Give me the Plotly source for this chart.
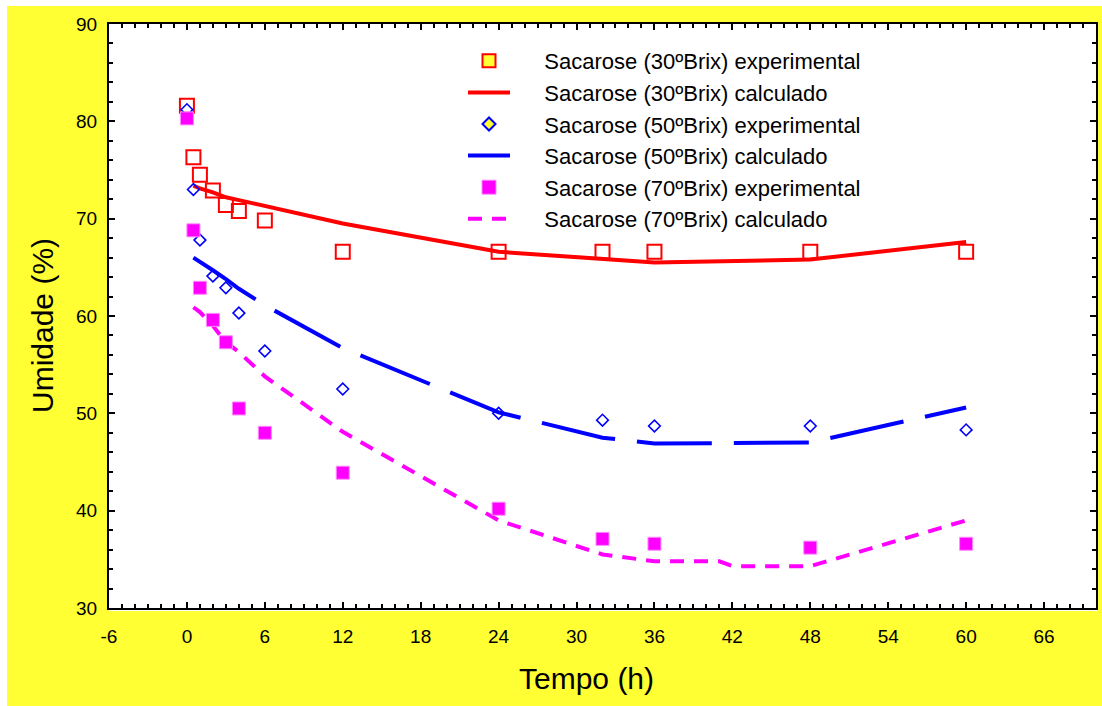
import plotly.graph_objects as go

# ---------------- data ----------------
t_exp = [0, 0.5, 1, 2, 3, 4, 6, 12, 24, 32, 36, 48, 60]
u30_exp = [81.6, 76.3, 74.5, 72.9, 71.4, 70.8, 69.8, 66.6, 66.6, 66.6, 66.6, 66.6, 66.6]
u50_exp = [81.2, 73.0, 67.8, 64.1, 62.9, 60.3, 56.4, 52.5, 50.0, 49.3, 48.7, 48.7, 48.3]
u70_exp = [80.3, 68.8, 62.9, 59.6, 57.3, 50.5, 48.0, 43.9, 40.2, 37.1, 36.6, 36.2, 36.6]

t_calc30 = [0.5, 1, 2, 3, 4, 6, 12, 24, 32, 36, 48, 60]
u30_calc = [73.4, 73.1, 72.7, 72.2, 71.9, 71.3, 69.5, 66.6, 65.9, 65.5, 65.8, 67.6]

t_calc50 = [0.5, 1, 2, 3, 4, 6, 12, 24, 32, 36, 48, 60]
u50_calc = [66.0, 65.6, 64.7, 63.8, 62.8, 61.1, 56.7, 50.1, 47.5, 46.9, 47.0, 50.6]

t_calc70 = [0.5, 1, 2, 3, 4, 6, 12, 24, 32, 36, 41, 42, 48, 60]
u70_calc = [60.9, 60.4, 59.0, 57.3, 56.3, 53.8, 48.1, 39.0, 35.5, 34.8, 34.8, 34.3, 34.3, 39.0]

names = [
    "Sacarose (30ºBrix) experimental",
    "Sacarose (30ºBrix) calculado",
    "Sacarose (50ºBrix) experimental",
    "Sacarose (50ºBrix) calculado",
    "Sacarose (70ºBrix) experimental",
    "Sacarose (70ºBrix) calculado",
]

x_ticks = [-6, 0, 6, 12, 18, 24, 30, 36, 42, 48, 54, 60, 66]
y_ticks = [30, 40, 50, 60, 70, 80, 90]
x_title = "Tempo (h)"
y_title = "Umidade (%)"

# ---------------- styles ----------------
RED = "#FF0000"
BLUE = "#0000FF"
MAG = "#FF00FF"
YEL = "#FFFF33"
FONT = "Liberation Sans, Arial, sans-serif"
PAD = "\u2003\u2004"  # visual gap between legend symbol and its text

fig = go.Figure()

# data traces (no legend)
fig.add_trace(go.Scatter(x=t_calc30, y=u30_calc, mode="lines", showlegend=False,
                         line=dict(color=RED, width=4)))
fig.add_trace(go.Scatter(x=t_calc50, y=u50_calc, mode="lines", showlegend=False,
                         line=dict(color=BLUE, width=4, dash="75px,22px")))
fig.add_trace(go.Scatter(x=t_calc70, y=u70_calc, mode="lines", showlegend=False,
                         line=dict(color=MAG, width=4, dash="14px,10px")))
fig.add_trace(go.Scatter(x=t_exp, y=u30_exp, mode="markers", showlegend=False,
                         marker=dict(symbol="square-open", size=14, color=RED,
                                     line=dict(width=2, color=RED))))
fig.add_trace(go.Scatter(x=t_exp, y=u50_exp, mode="markers", showlegend=False,
                         marker=dict(symbol="diamond-open", size=9, color=BLUE,
                                     line=dict(width=1.6, color=BLUE))))
fig.add_trace(go.Scatter(x=t_exp, y=u70_exp, mode="markers", showlegend=False,
                         marker=dict(symbol="square", size=13, color=MAG,
                                     line=dict(width=1, color="#FF88FF"))))

# legend entries (legend-only styling as in the reference)
leg_styles = [
    dict(mode="markers", marker=dict(symbol="square", size=13, color=YEL,
                                     line=dict(width=2, color=RED))),
    dict(mode="lines", line=dict(color=RED, width=4)),
    dict(mode="markers", marker=dict(symbol="diamond", size=10, color=YEL,
                                     line=dict(width=2, color=BLUE))),
    dict(mode="lines", line=dict(color=BLUE, width=4)),
    dict(mode="markers", marker=dict(symbol="square", size=14, color=MAG,
                                     line=dict(width=1, color="#FF88FF"))),
    dict(mode="lines", line=dict(color=MAG, width=4, dash="14px,10px")),
]
for nm, st in zip(names, leg_styles):
    fig.add_trace(go.Scatter(x=[None], y=[None], name=PAD + nm, showlegend=True, **st))

W, H = 1102, 706
L, R, T, B = 109, 6, 24, 98
pw, ph = W - L - R, H - T - B


def px_x(p):
    return (p - L) / pw


def px_y(p):
    return (H - B - p) / ph


shapes = [
    # thin white border strips of the picture (left / top)
    dict(type="rect", xref="paper", yref="paper", x0=px_x(-5), x1=px_x(7), y0=px_y(720), y1=px_y(-10),
         fillcolor="white", line=dict(width=0), layer="below"),
    dict(type="rect", xref="paper", yref="paper", x0=px_x(-5), x1=px_x(1110), y0=px_y(6), y1=px_y(-10),
         fillcolor="white", line=dict(width=0), layer="below"),
    # white plot panel spills slightly beyond the axes
    dict(type="rect", xref="paper", yref="paper", x0=0, x1=px_x(1098), y0=px_y(611), y1=0,
         fillcolor="white", line=dict(width=0), layer="below"),
    dict(type="rect", xref="paper", yref="paper", x0=1, x1=px_x(1098), y0=0, y1=1,
         fillcolor="white", line=dict(width=0), layer="below"),
]

# axis titles placed as annotations (the reference sets them off-centre)
annotations = [
    dict(text=x_title, xref="paper", yref="paper", x=px_x(586), y=px_y(678),
         xanchor="center", yanchor="middle", showarrow=False,
         font=dict(family=FONT, size=30, color="black")),
    dict(text=y_title, xref="paper", yref="paper", x=px_x(42), y=px_y(326),
         xanchor="center", yanchor="middle", showarrow=False, textangle=-90,
         font=dict(family=FONT, size=30, color="black")),
]

axis_common = dict(
    automargin=False,
    showline=True, linecolor="black", linewidth=2, mirror="allticks",
    ticks="inside", ticklen=6, tickwidth=2, tickcolor="black",
    showgrid=False, zeroline=False,
    tickfont=dict(family=FONT, size=19, color="black"),
)

fig.update_layout(
    width=W, height=H,
    margin=dict(l=L, r=R, t=T, b=B),
    paper_bgcolor=YEL,
    plot_bgcolor="white",
    font=dict(family=FONT, color="black"),
    shapes=shapes,
    annotations=annotations,
    showlegend=True,
    legend=dict(
        x=px_x(463), y=px_y(40), xanchor="left", yanchor="top",
        bgcolor="rgba(0,0,0,0)", borderwidth=0,
        font=dict(family=FONT, size=22, color="black"),
        itemwidth=42,
        traceorder="normal",
    ),
    xaxis=dict(
        range=[-6, 70], tickmode="array", tickvals=x_ticks,
        ticktext=[str(v) for v in x_ticks],
        minor=dict(dtick=1, tick0=0, ticks="inside", ticklen=4, tickwidth=1.5, tickcolor="black"),
        ticklabelstandoff=10,
        **axis_common,
    ),
    yaxis=dict(
        range=[30, 90], tickmode="array", tickvals=y_ticks,
        ticktext=[str(v) for v in y_ticks],
        minor=dict(dtick=2, tick0=0, ticks="inside", ticklen=4, tickwidth=1.5, tickcolor="black"),
        ticklabelstandoff=6,
        **axis_common,
    ),
)

fig.write_html("out.html", config={"displayModeBar": False},
               post_script="document.body.style.margin='0';")
